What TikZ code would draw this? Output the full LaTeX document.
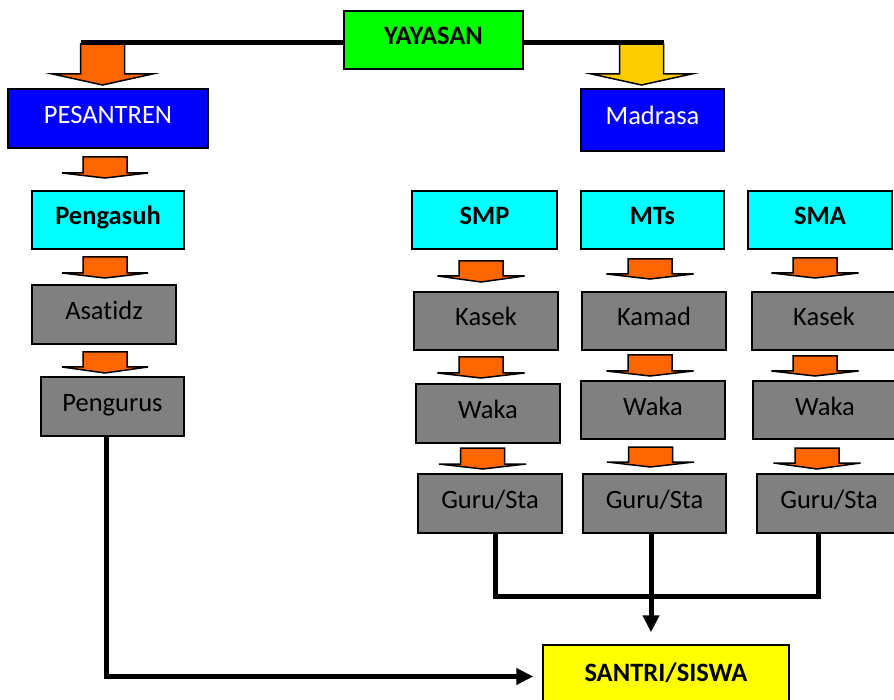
\documentclass[tikz,border=0pt]{standalone}
\usepackage{fontspec}
\setmainfont[Ligatures=NoCommon]{Carlito}
\usetikzlibrary{arrows.meta}
\definecolor{cgreen}{HTML}{00FF00}
\definecolor{cblue}{HTML}{0000FF}
\definecolor{ccyan}{HTML}{00FFFF}
\definecolor{cgrey}{HTML}{808080}
\definecolor{cyellow}{HTML}{FFFF00}
\definecolor{corange}{HTML}{FF6600}
\definecolor{cgold}{HTML}{FFCC00}
% block arrow: centre x, top y, shaft length, half head width, head length, fill
\newcommand\blkarrow[6]{%
  \filldraw[fill=#6, draw=black, line width=1.5pt, line join=miter]
    ({#1-22},{#2}) -- ({#1+22},{#2}) -- ({#1+22},{#2+#3}) -- ({#1+#4},{#2+#3})
    -- ({#1},{#2+#3+#5}) -- ({#1-#4},{#2+#3}) -- ({#1-22},{#2+#3}) -- cycle;}
\begin{document}
\begin{tikzpicture}[x=1pt,y=-1pt,
  box/.style={draw=black, line width=1.5pt, inner sep=0pt, minimum height=58pt,
    minimum width=144pt, text height=17pt, text depth=7pt,
    font=\fontsize{26.5}{30}\selectfont},
  boldbox/.style={box, font=\fontsize{26.5}{30}\selectfont\bfseries},
  greybox/.style={box, fill=cgrey},
  cyanbox/.style={boldbox, fill=ccyan},
  bluebox/.style={box, fill=cblue, text=white},
  conn/.style={draw=black, line width=5pt, line join=miter},
  tip/.style={-{Triangle[length=17pt,width=16pt]}}]
\useasboundingbox (0,0) rectangle (894,700);

% block arrows
\blkarrow{102.5}{44}{30}{50}{11}{corange}
\blkarrow{641.5}{44}{30}{50}{11}{cgold}
\blkarrow{105}{157}{16}{43}{5}{corange}
\blkarrow{105}{257}{16}{43}{5}{corange}
\blkarrow{105}{352}{15}{43}{6}{corange}
\blkarrow{481}{261}{15}{43.5}{6}{corange}
\blkarrow{481}{357}{16}{43.5}{5}{corange}
\blkarrow{482.5}{448}{16}{43.5}{5}{corange}
\blkarrow{650}{259}{15}{43.5}{5}{corange}
\blkarrow{650}{355}{16}{43.5}{5}{corange}
\blkarrow{650.5}{447}{15}{43.5}{5}{corange}
\blkarrow{815}{258}{15}{43.5}{5}{corange}
\blkarrow{815}{356}{15}{43.5}{5}{corange}
\blkarrow{817}{448}{15}{43.5}{6}{corange}

% nodes
\node[boldbox, fill=cgreen, minimum width=179pt] (yayasan) at (433.5,40) {YAYASAN};
\node[bluebox, minimum width=200pt, minimum height=59pt] (pesantren) at (108,118.5) {PESANTREN};
\node[bluebox, minimum width=143pt, minimum height=62pt] (madrasa) at (652.5,120) {Madrasa};
\node[cyanbox, minimum width=152pt] (pengasuh) at (108,220) {Pengasuh};
\node[greybox, minimum height=59pt] (asatidz) at (104,314.5) {Asatidz};
\node[greybox, minimum width=143pt, minimum height=59pt] (pengurus) at (112.5,406.5) {Pengurus};

\node[cyanbox, minimum width=145pt] (smp) at (484.5,220) {SMP};
\node[cyanbox, minimum width=143pt] (mts) at (652.5,220) {MTs};
\node[cyanbox] (sma) at (820,220) {SMA};

\node[greybox] (kasek1) at (486,321) {Kasek};
\node[greybox] (kamad) at (654,321) {Kamad};
\node[greybox] (kasek3) at (824,321) {Kasek};

\node[greybox, minimum height=59pt] (waka1) at (488,413.5) {Waka};
\node[greybox] (waka2) at (653,410) {Waka};
\node[greybox] (waka3) at (825,410) {Waka};

\node[greybox, minimum height=59pt] (guru1) at (490,503.5) {Guru/Sta};
\node[greybox, minimum width=143pt, minimum height=59pt] (guru2) at (654.5,503.5) {Guru/Sta};
\node[greybox, minimum height=59pt] (guru3) at (829,503.5) {Guru/Sta};

\node[boldbox, fill=cyellow, minimum width=246pt, minimum height=63pt] (santri) at (666,676.5) {SANTRI/SISWA};

% top connector
\coordinate (tl) at (81,42.5);
\coordinate (tr) at (663.5,42.5);
\draw[conn] ([yshift=-2.5pt]yayasan.west) -- (tl);
\draw[conn] ([yshift=-2.5pt]yayasan.east) -- (tr);

% bottom connectors
\coordinate (bus) at (651,596);
\draw[conn] ([xshift=5pt]guru1.south) |- (bus) -| ([xshift=-11pt]guru3.south);
\draw[conn, tip, shorten >=12pt] ([xshift=-3.5pt]guru2.south) -- ([xshift=-3.5pt]guru2.south |- santri.north);
\draw[conn, tip, shorten >=9pt] ([xshift=-6.5pt]pengurus.south) |- (santri.west);
\end{tikzpicture}
\end{document}
